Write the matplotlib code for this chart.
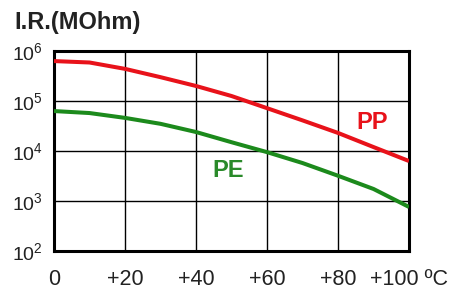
import matplotlib
matplotlib.use("Agg")
import matplotlib.pyplot as plt
from matplotlib.ticker import FixedLocator, FixedFormatter, NullLocator

plt.rcParams['font.family'] = ['Liberation Sans', 'DejaVu Sans']
plt.rcParams['mathtext.fontset'] = 'custom'
plt.rcParams['mathtext.rm'] = 'Liberation Sans'
plt.rcParams['mathtext.it'] = 'Liberation Sans'
plt.rcParams['mathtext.bf'] = 'Liberation Sans:bold'

temps = [0, 10, 20, 30, 40, 50, 60, 70, 80, 90, 100]
pp_values = [6.3e5, 5.9e5, 4.4e5, 3.0e5, 2.0e5, 1.26e5, 7.2e4, 4.1e4, 2.3e4, 1.2e4, 6.3e3]
pe_values = [6.3e4, 5.75e4, 4.6e4, 3.5e4, 2.4e4, 1.5e4, 9.5e3, 5.75e3, 3.2e3, 1.74e3, 7.6e2]

x_ticks = [0, 20, 40, 60, 80, 100]
x_labels = ['0', '+20', '+40', '+60', '+80', '+100 ºC']
y_ticks = [1e2, 1e3, 1e4, 1e5, 1e6]
y_labels = [r'$10^2$', r'$10^3$', r'$10^4$', r'$10^5$', r'$10^6$']

red = '#e8121a'
green = '#1c8a1c'

fig = plt.figure(figsize=(4.56, 2.90), dpi=100)
ax = fig.add_axes([0.1184, 0.1345, 0.7786, 0.6895])

ax.set_yscale('log')
ax.set_xlim(0, 100)
ax.set_ylim(1e2, 1e6)

ax.plot(temps, pp_values, color=red, lw=2.9, solid_capstyle='butt', zorder=3)
ax.plot(temps, pe_values, color=green, lw=2.9, solid_capstyle='butt', zorder=3)

ax.xaxis.set_major_locator(FixedLocator(x_ticks))
ax.xaxis.set_major_formatter(FixedFormatter(x_labels))
ax.yaxis.set_major_locator(FixedLocator(y_ticks))
ax.yaxis.set_major_formatter(FixedFormatter(y_labels))
ax.yaxis.set_minor_locator(NullLocator())

ax.grid(True, which='major', color='black', lw=1.0)
ax.tick_params(axis='x', length=0, labelsize=15.5, colors='#222222', pad=13)
ax.tick_params(axis='y', length=0, labelsize=14, colors='#222222', pad=8)

for s in ax.spines.values():
    s.set_linewidth(2.2)
    s.set_color('black')

ax.text(89.6, 10**4.58, 'PP', color=red, fontsize=17, fontweight='bold', ha='center', va='center')
ax.text(49, 10**3.62, 'PE', color='#2a8a2a', fontsize=17, fontweight='bold', ha='center', va='center')

fig.text(14/456, 1 - 22/290, 'I.R.(MOhm)', fontsize=17, fontweight='bold', color='#222222', ha='left', va='center')

fig.savefig('out.png', dpi=100)
